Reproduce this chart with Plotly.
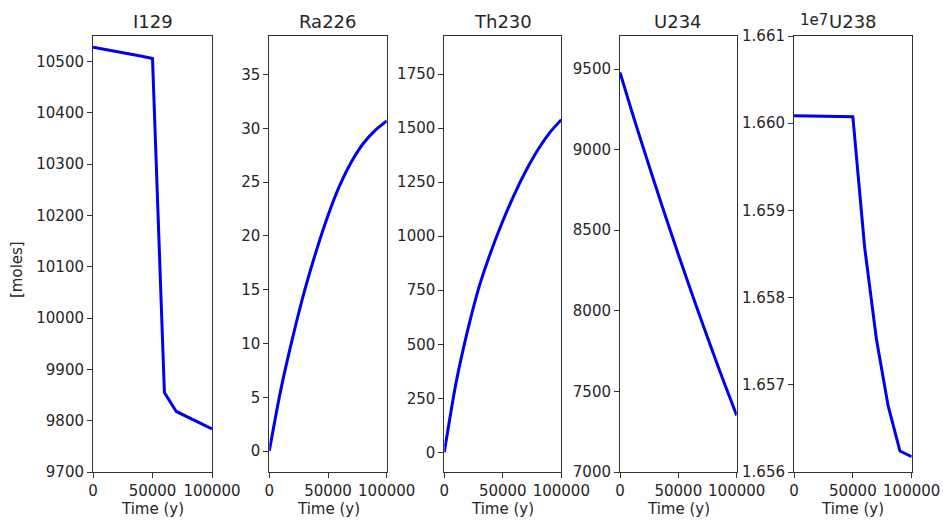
import plotly.graph_objects as go

# ---- data ----
time_y = [0, 10000, 20000, 30000, 40000, 50000, 60000, 70000, 80000, 90000, 100000]
species = ["I129", "Ra226", "Th230", "U234", "U238"]
i129 = [10528, 10524, 10520, 10515, 10511, 10506, 9855, 9818, 9807, 9796, 9784]
ra226 = [0, 5.8, 10.6, 14.9, 18.6, 21.9, 24.7, 26.9, 28.6, 29.8, 30.7]
th230 = [0, 320, 565, 770, 930, 1070, 1195, 1305, 1400, 1478, 1539]
u234 = [9479, 9240, 9010, 8785, 8565, 8350, 8140, 7935, 7735, 7540, 7351]
u238 = [16600860, 16600840, 16600820, 16600800, 16600780, 16600750,
        16585790, 16575250, 16567570, 16562410, 16561750]
series = [i129, ra226, th230, u234, u238]
smooth = [False, True, True, True, False]

x_ticks = [0, 50000, 100000]
x_ticklabels = ["0", "50000", "100000"]
y_ranges = [[9700, 10550], [-1.95, 38.6], [-91, 1926], [7000, 9705], [16560000, 16610000]]
y_ticks = [
    [9700, 9800, 9900, 10000, 10100, 10200, 10300, 10400, 10500],
    [0, 5, 10, 15, 20, 25, 30, 35],
    [0, 250, 500, 750, 1000, 1250, 1500, 1750],
    [7000, 7500, 8000, 8500, 9000, 9500],
    [16560000, 16570000, 16580000, 16590000, 16600000, 16610000],
]
y_ticklabels = [
    [str(v) for v in y_ticks[0]],
    [str(v) for v in y_ticks[1]],
    [str(v) for v in y_ticks[2]],
    [str(v) for v in y_ticks[3]],
    ["1.656", "1.657", "1.658", "1.659", "1.660", "1.661"],
]

# ---- layout geometry (pixels) ----
W, H = 943, 520
panel_px = [(93, 212), (269.3, 386.7), (444.3, 561.3), (620, 736.7), (794, 911.7)]
top_px, bot_px = 36, 472
ydom = [(H - bot_px) / H, (H - top_px) / H]

FONT = "DejaVu Sans"
TXT = "#262626"
AX = "#333333"

fig = go.Figure()
annotations = []
for i, (name, vals) in enumerate(zip(species, series)):
    k = "" if i == 0 else str(i + 1)
    fig.add_trace(go.Scatter(
        x=time_y, y=vals, mode="lines",
        line=dict(color="#0000ee", width=3,
                  shape="spline" if smooth[i] else "linear", smoothing=0.8),
        xaxis="x" + k, yaxis="y" + k, showlegend=False,
    ))
    x0, x1 = panel_px[i]
    common = dict(showline=True, mirror=True, linecolor=AX, linewidth=1,
                  ticks="outside", ticklen=5, tickwidth=1, tickcolor=AX,
                  showgrid=False, zeroline=False, automargin=False,
                  tickfont=dict(family=FONT, size=15, color=TXT))
    fig.update_layout(**{
        "xaxis" + k: dict(domain=[x0 / W, x1 / W], anchor="y" + k,
                          range=[0, 100000], tickmode="array",
                          tickvals=x_ticks, ticktext=x_ticklabels, **common),
        "yaxis" + k: dict(domain=ydom, anchor="x" + k, range=y_ranges[i],
                          tickmode="array", tickvals=y_ticks[i],
                          ticktext=y_ticklabels[i], **common),
    })
    annotations.append(dict(
        text=name, x=(x0 + x1) / 2 / W, y=(H - 22) / H, xref="paper", yref="paper",
        showarrow=False, font=dict(family=FONT, size=18, color=TXT),
        xanchor="center", yanchor="middle"))
    annotations.append(dict(
        text="Time (y)", x=(x0 + x1) / 2 / W, y=(H - 509) / H, xref="paper", yref="paper",
        showarrow=False, font=dict(family=FONT, size=15, color=TXT),
        xanchor="center", yanchor="middle"))

annotations.append(dict(
    text="[moles]", x=17 / W, y=(H - 270) / H, xref="paper", yref="paper",
    showarrow=False, textangle=-90, font=dict(family=FONT, size=15, color=TXT),
    xanchor="center", yanchor="middle"))
annotations.append(dict(
    text="1e7", x=798 / W, y=(H - 20) / H, xref="paper", yref="paper",
    showarrow=False, font=dict(family=FONT, size=15, color=TXT),
    xanchor="left", yanchor="middle"))

fig.update_layout(
    width=W, height=H, margin=dict(l=0, r=0, t=0, b=0, autoexpand=False),
    paper_bgcolor="white", plot_bgcolor="white",
    annotations=annotations,
)
fig.write_html(
    "out.html",
    post_script="document.body.style.margin='0';document.body.style.overflow='hidden';",
)
